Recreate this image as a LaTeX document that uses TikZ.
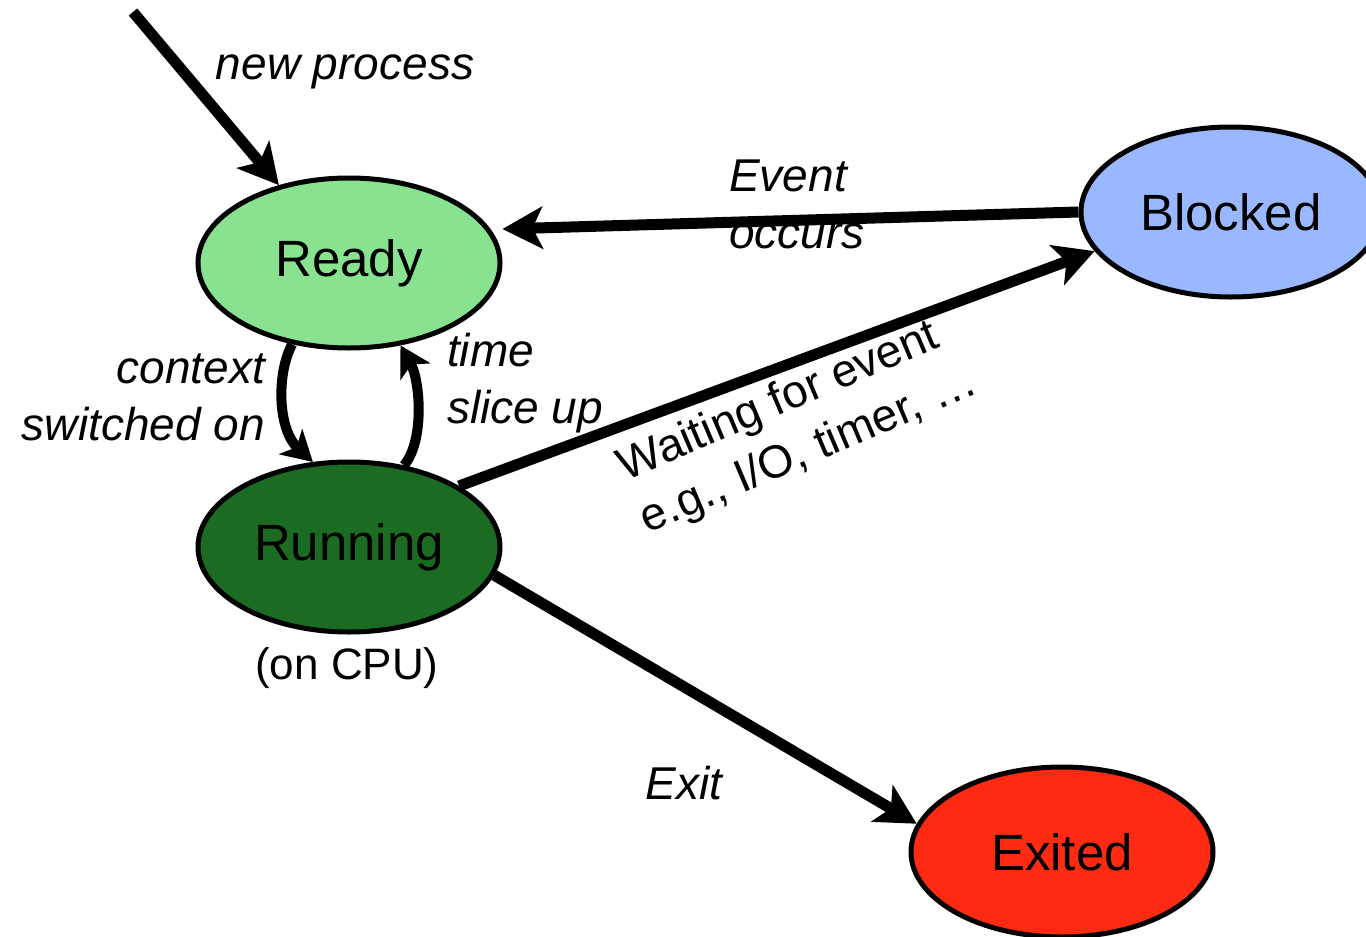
\documentclass[tikz,border=0pt]{standalone}
\usepackage{fontspec}
\setmainfont{Liberation Sans}
\usetikzlibrary{shapes.geometric,arrows.meta}
\definecolor{readyc}{HTML}{88E28F}
\definecolor{runc}{HTML}{1B6B23}
\definecolor{blockc}{HTML}{99B8FF}
\definecolor{exitc}{HTML}{FF2A12}
\begin{document}
\begin{tikzpicture}[x=1pt,y=-1pt,
  state/.style={ellipse,draw=black,line width=5pt,minimum width=302pt,minimum height=170pt,inner sep=0pt,font=\fontsize{51}{57}\selectfont},
  trans/.style={line width=11pt,-{Stealth[length=40pt,width=42pt,inset=10pt]}},
  loopt/.style={line width=10pt,-{Stealth[length=30pt,width=34pt,inset=8pt]}},
  lbl/.style={font=\fontsize{46}{57}\selectfont\itshape,inner sep=0pt}]
\useasboundingbox (0,0) rectangle (1366,937);
\clip (0,0) rectangle (1366,937);
\node[state,fill=readyc] (ready) at (349,263) {Ready};
\node[state,fill=runc] (running) at (349,547) {Running};
\node[state,fill=blockc,minimum width=300pt] (blocked) at (1231,212) {Blocked};
\node[state,fill=exitc] (exited) at (1062,852) {Exited};
\coordinate (np) at (133,12);
\draw[trans] (np) -- (ready.132);
\draw[trans] (blocked.west) -- ([yshift=34pt]ready.east);
\draw[trans] (running.29.5) -- (blocked.196);
\draw[trans] (running.-11) -- (exited.169.3);
\draw[loopt] (ready.235) .. controls (276,375) and (278,430) .. (running.113);
\draw[loopt] (running.56) .. controls (425,440) and (420,380) .. (ready.-58);
\node[lbl] (lnp) at (345,72) {new process};
\node[lbl,anchor=east,align=right] (lctx) at (265,397) {context\\switched on};
\node[lbl,anchor=west,align=left] (lts) at (447,383) {time\\slice up};
\node[lbl,anchor=west,align=left] (lev) at (729,204) {Event\\occurs};
\node[font=\fontsize{46}{57}\selectfont,inner sep=0pt,align=left,rotate=23] (lwait) at (798,426) {Waiting for event\\e.g., I/O, timer, …};
\node[lbl] (lexit) at (684,783) {Exit};
\node[font=\fontsize{44}{52}\selectfont,inner sep=0pt] (lcpu) at (347,668) {(on CPU)};
\end{tikzpicture}
\end{document}
